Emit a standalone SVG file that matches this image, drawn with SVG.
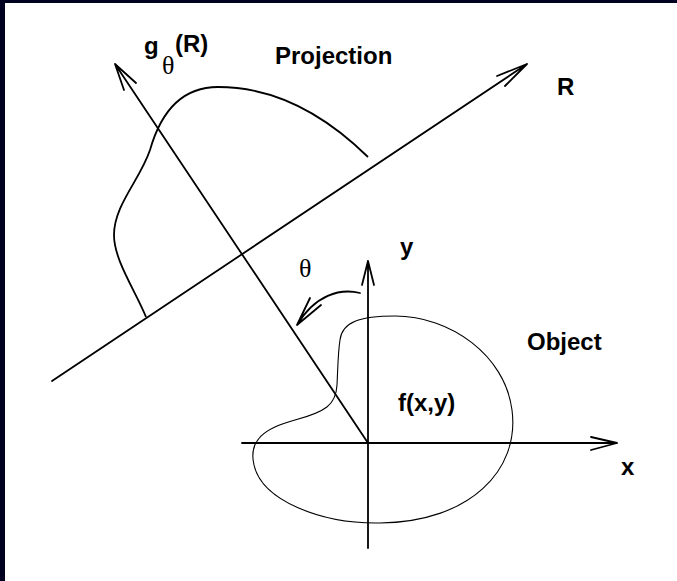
<svg xmlns="http://www.w3.org/2000/svg" width="677" height="581" viewBox="0 0 677 581">
<style>
.ax{fill:none;stroke:#000;stroke-width:1.8;stroke-linecap:round;stroke-linejoin:round}
.cv{fill:none;stroke:#000;stroke-width:1.8}
.thin{fill:none;stroke:#000;stroke-width:1.1}
.lb{font-family:"Liberation Sans",Arial,sans-serif;font-weight:bold;font-size:24px;fill:#000}
.gr{font-family:"Liberation Serif","Times New Roman",serif;font-size:26px;fill:#000}
</style>
<rect x="0" y="0" width="677" height="581" fill="#000020"/>
<rect x="5" y="3" width="672" height="578" fill="#fff"/>
<g id="connectors">
<path class="ax" d="M242,443 L617,443 M591,437 L617,443 L591,450"/>
<path class="ax" d="M368,548 L368,261 M362,285 L368,261 L374,285"/>
<path class="ax" d="M368,443 L115,64 M124,90 L115,64 L136,83"/>
<path class="ax" d="M52,381 L527,64 M497,76 L527,64 L505,86"/>
<path class="ax" d="M360,293 C340,288 315,295 297,325 M310,298 L297,325 L321,305"/>
</g>
<g id="projection">
<path class="cv" d="M146,317 C135,290 114,260 114,235 C114,205 140,180 150,150 C160,115 180,87 218,87 C270,87 320,110 368,157"/>
<text class="lb" x="275" y="64">Projection</text>
</g>
<g id="object">
<path class="thin" d="M340,340 C342,322 360,316 395,316 C450,316 505,355 512,410 C520,470 470,522 380,523 C320,524 262,500 254,465 C248,440 265,428 295,420 C325,412 336,405 337,385 C338,365 338,352 340,340 Z"/>
<text class="lb" x="527" y="350">Object</text>
<text class="lb" x="398" y="411">f(x,y)</text>
</g>
<g id="labels">
<text class="lb" x="144" y="54">g</text>
<text class="gr" x="162" y="74">θ</text>
<text class="lb" x="175" y="52">(R)</text>
<text class="lb" x="557" y="95">R</text>
<text class="lb" x="400" y="255">y</text>
<text class="gr" x="299" y="277">θ</text>
<text class="lb" x="621" y="475">x</text>
</g>
</svg>
